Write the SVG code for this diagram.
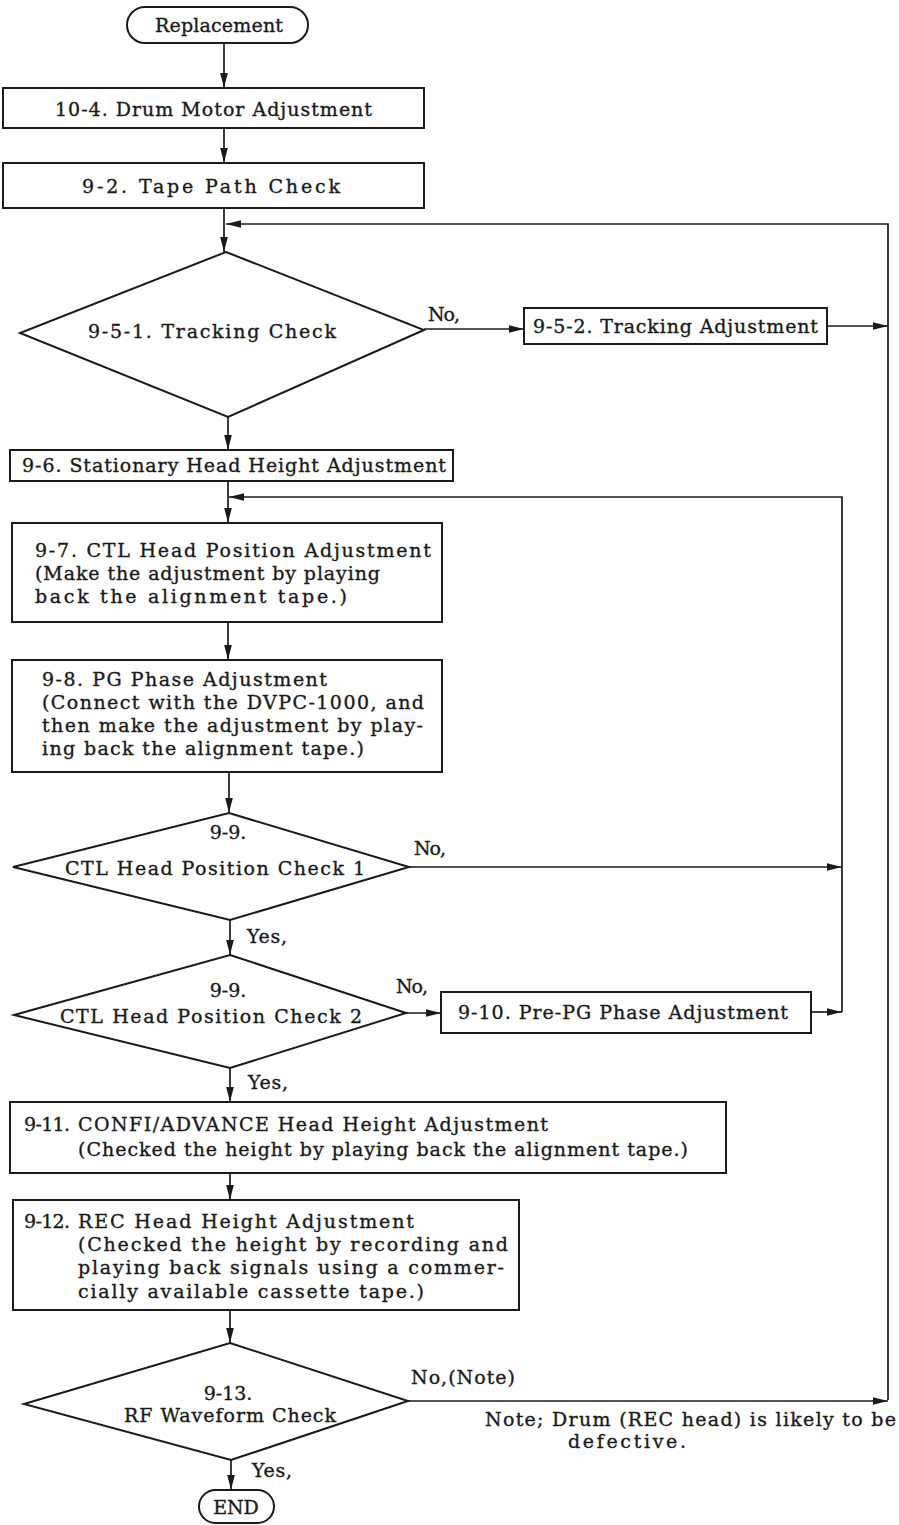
<svg xmlns="http://www.w3.org/2000/svg" width="899" height="1525" viewBox="0 0 899 1525">
<style>
.bg{fill:#ffffff}
.box{fill:#ffffff;stroke:#1a1a1a;stroke-width:2}
.ln{fill:none;stroke:#1a1a1a;stroke-width:1.7}
text{font-family:"DejaVu Serif","Liberation Serif",serif;font-size:19px;fill:#1a1a1a;stroke:#1a1a1a;stroke-width:0.35}
.c{text-anchor:middle}
</style>
<defs>
<marker id="ah" markerUnits="userSpaceOnUse" markerWidth="16" markerHeight="10" refX="15" refY="5" orient="auto">
<path d="M0,1.2 L15,5 L0,8.8 z" fill="#1a1a1a"/>
</marker>
</defs>
<rect class="bg" x="0" y="0" width="899" height="1525"/>

<g id="connectors">
<path class="ln" d="M224,43 V88" marker-end="url(#ah)"/>
<path class="ln" d="M224,128 V163" marker-end="url(#ah)"/>
<path class="ln" d="M224,208 V252" marker-end="url(#ah)"/>
<path class="ln" d="M888,1400 V224 H226" marker-end="url(#ah)"/>
<path class="ln" d="M424,329 H524" marker-end="url(#ah)"/>
<path class="ln" d="M827,326 H888" marker-end="url(#ah)"/>
<path class="ln" d="M228,417 V450" marker-end="url(#ah)"/>
<path class="ln" d="M842,1012 V497 H229" marker-end="url(#ah)"/>
<path class="ln" d="M228,481 V523" marker-end="url(#ah)"/>
<path class="ln" d="M228,622 V660" marker-end="url(#ah)"/>
<path class="ln" d="M229,772 V813" marker-end="url(#ah)"/>
<path class="ln" d="M409,867 H842" marker-end="url(#ah)"/>
<path class="ln" d="M230,920 V955" marker-end="url(#ah)"/>
<path class="ln" d="M406,1013 H441" marker-end="url(#ah)"/>
<path class="ln" d="M811,1012 H842" marker-end="url(#ah)"/>
<path class="ln" d="M230,1068 V1102" marker-end="url(#ah)"/>
<path class="ln" d="M230,1173 V1200" marker-end="url(#ah)"/>
<path class="ln" d="M230,1310 V1343" marker-end="url(#ah)"/>
<path class="ln" d="M408,1401 H888" marker-end="url(#ah)"/>
<path class="ln" d="M231,1460 V1490" marker-end="url(#ah)"/>
</g>

<g id="n-replacement">
<rect class="box" x="127" y="7" width="181" height="36" rx="18"/>
<text x="155" y="32" textLength="128" lengthAdjust="spacing">Replacement</text>
</g>

<g id="n-10-4">
<rect class="box" x="3" y="88" width="421" height="40"/>
<text x="55" y="116" textLength="317" lengthAdjust="spacing">10-4. Drum Motor Adjustment</text>
</g>

<g id="n-9-2">
<rect class="box" x="3" y="163" width="421" height="45"/>
<text x="82" y="193" textLength="258" lengthAdjust="spacing">9-2. Tape Path Check</text>
</g>

<g id="n-9-5-1">
<polygon class="box" points="226,252 424,330 228,417 20,333"/>
<text x="88" y="338" textLength="248" lengthAdjust="spacing">9-5-1. Tracking Check</text>
</g>
<text x="428" y="321" textLength="32" lengthAdjust="spacing">No,</text>

<g id="n-9-5-2">
<rect class="box" x="524" y="308" width="303" height="36"/>
<text x="533" y="333" textLength="285" lengthAdjust="spacing">9-5-2. Tracking Adjustment</text>
</g>

<g id="n-9-6">
<rect class="box" x="10" y="450" width="443" height="31"/>
<text x="22" y="472" textLength="424" lengthAdjust="spacing">9-6. Stationary Head Height Adjustment</text>
</g>

<g id="n-9-7">
<rect class="box" x="12" y="523" width="430" height="99"/>
<text x="35" y="557" textLength="396" lengthAdjust="spacing">9-7. CTL Head Position Adjustment</text>
<text x="35" y="580" textLength="345" lengthAdjust="spacing">(Make the adjustment by playing</text>
<text x="35" y="603" textLength="312" lengthAdjust="spacing">back the alignment tape.)</text>
</g>

<g id="n-9-8">
<rect class="box" x="12" y="660" width="430" height="112"/>
<text x="42" y="686" textLength="285" lengthAdjust="spacing">9-8. PG Phase Adjustment</text>
<text x="42" y="709" textLength="382" lengthAdjust="spacing">(Connect with the DVPC-1000, and</text>
<text x="42" y="732" textLength="381" lengthAdjust="spacing">then make the adjustment by play-</text>
<text x="42" y="755" textLength="322" lengthAdjust="spacing">ing back the alignment tape.)</text>
</g>

<g id="n-9-9-1">
<polygon class="box" points="229,813 409,867 230,920 13,867"/>
<text class="c" x="228" y="839">9-9.</text>
<text x="65" y="875" textLength="300" lengthAdjust="spacing">CTL Head Position Check 1</text>
</g>
<text x="414" y="855" textLength="32" lengthAdjust="spacing">No,</text>
<text x="247" y="943" textLength="40" lengthAdjust="spacing">Yes,</text>

<g id="n-9-9-2">
<polygon class="box" points="230,955 406,1013 230,1068 14,1015"/>
<text class="c" x="228" y="997">9-9.</text>
<text x="60" y="1023" textLength="302" lengthAdjust="spacing">CTL Head Position Check 2</text>
</g>
<text x="396" y="993" textLength="32" lengthAdjust="spacing">No,</text>

<g id="n-9-10">
<rect class="box" x="441" y="992" width="370" height="41"/>
<text x="458" y="1019" textLength="330" lengthAdjust="spacing">9-10. Pre-PG Phase Adjustment</text>
</g>
<text x="248" y="1089" textLength="40" lengthAdjust="spacing">Yes,</text>

<g id="n-9-11">
<rect class="box" x="10" y="1102" width="716" height="71"/>
<text x="24" y="1131" textLength="46" lengthAdjust="spacing">9-11.</text>
<text x="78" y="1131" textLength="470" lengthAdjust="spacing">CONFI/ADVANCE Head Height Adjustment</text>
<text x="78" y="1156" textLength="610" lengthAdjust="spacing">(Checked the height by playing back the alignment tape.)</text>
</g>

<g id="n-9-12">
<rect class="box" x="13" y="1200" width="506" height="110"/>
<text x="24" y="1228" textLength="46" lengthAdjust="spacing">9-12.</text>
<text x="78" y="1228" textLength="336" lengthAdjust="spacing">REC Head Height Adjustment</text>
<text x="78" y="1251" textLength="430" lengthAdjust="spacing">(Checked the height by recording and</text>
<text x="78" y="1274" textLength="426" lengthAdjust="spacing">playing back signals using a commer-</text>
<text x="78" y="1298" textLength="346" lengthAdjust="spacing">cially available cassette tape.)</text>
</g>

<g id="n-9-13">
<polygon class="box" points="230,1343 408,1401 231,1460 24,1404"/>
<text class="c" x="228" y="1400">9-13.</text>
<text x="124" y="1422" textLength="212" lengthAdjust="spacing">RF Waveform Check</text>
</g>
<text x="411" y="1384" textLength="104" lengthAdjust="spacing">No,(Note)</text>
<text x="485" y="1426" textLength="411" lengthAdjust="spacing">Note; Drum (REC head) is likely to be</text>
<text x="568" y="1448" textLength="118" lengthAdjust="spacing">defective.</text>
<text x="252" y="1477" textLength="40" lengthAdjust="spacing">Yes,</text>

<g id="n-end">
<rect class="box" x="199" y="1490" width="75" height="33" rx="16.5"/>
<text class="c" x="236" y="1514">END</text>
</g>
</svg>
